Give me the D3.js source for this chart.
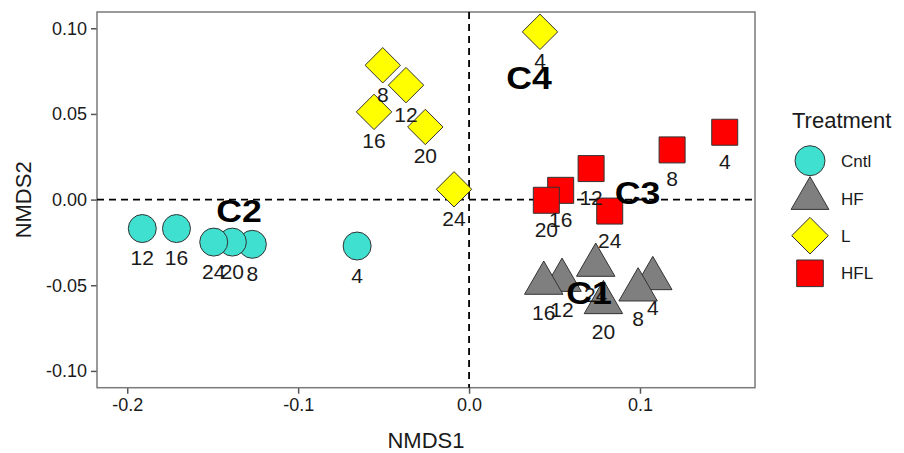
<!DOCTYPE html>
<html>
<head>
<meta charset="utf-8">
<script src="https://cdn.jsdelivr.net/npm/d3@7"></script>
<style>
  body { margin: 0; background: white; }
  svg { font-family: "Liberation Sans", Arial, sans-serif; }
</style>
</head>
<body>
<div id="chart"></div>
<script>
let w = 904;
let h = 453;

// sampling days (point labels), same order in every treatment
let days = [4, 8, 12, 16, 20, 24];

let treatments = ["Cntl", "HF", "L", "HFL"];
let colors = ["#40E0D0", "#7F7F7F", "#FFFF00", "#FF0000"];

// NMDS coordinates per treatment
let cntlX = [-0.0655, -0.1268, -0.1912, -0.1712, -0.1385, -0.1494];
let cntlY = [-0.0271, -0.0261, -0.0169, -0.0169, -0.0248, -0.0248];
let hfX = [0.1075, 0.0989, 0.0544, 0.0437, 0.0786, 0.0741];
let hfY = [-0.0461, -0.0527, -0.0471, -0.0488, -0.0601, -0.0383];
let lX = [0.0415, -0.0505, -0.0369, -0.0556, -0.0256, -0.0088];
let lY = [0.0979, 0.0784, 0.0668, 0.0512, 0.0424, 0.0060];
let hflX = [0.1496, 0.1188, 0.0714, 0.0536, 0.0452, 0.0823];
let hflY = [0.0393, 0.0290, 0.0181, 0.0054, -0.0004, -0.0067];

// cluster annotations
let clusterNames = ["C1", "C2", "C3", "C4"];
let clusterX = [0.0702, -0.1346, 0.0986, 0.0351];
let clusterY = [-0.0547, -0.0065, 0.0040, 0.0707];

let xTicks = [-0.2, -0.1, 0.0, 0.1];
let yTicks = [-0.10, -0.05, 0.00, 0.05, 0.10];

let seriesX = [cntlX, hfX, lX, hflX];
let seriesY = [cntlY, hfY, lY, hflY];

let points = [];
treatments.forEach((t, ti) => {
  days.forEach((d, i) => {
    points.push({ treatment: t, ti: ti, day: d, x: seriesX[ti][i], y: seriesY[ti][i] });
  });
});

let viz = d3.select("#chart")
  .append("svg")
  .attr("width", w)
  .attr("height", h);

let pLeft = 97, pRight = 755, pTop = 12, pBottom = 387.7;

let xScale = d3.scaleLinear().domain([-0.2177, 0.1673]).range([pLeft, pRight]);
let yScale = d3.scaleLinear().domain([-0.1098, 0.1095]).range([pBottom, pTop]);

// shape paths, one per treatment
function shapePath(ti, s) {
  if (ti == 0) {
    let r = 14 * s;
    return d3.symbol(d3.symbolCircle, Math.PI * r * r)();
  } else if (ti == 1) {
    let R = 22.2 * s;
    let yy = R / 2, xx = R * Math.sqrt(3) / 2;
    return "M0," + (-R) + "L" + xx + "," + yy + "L" + (-xx) + "," + yy + "Z";
  } else if (ti == 2) {
    let a = 17.7 * s;
    return "M0," + (-a) + "L" + a + ",0L0," + a + "L" + (-a) + ",0Z";
  } else {
    let a = 13 * s;
    return "M" + (-a) + "," + (-a) + "H" + a + "V" + a + "H" + (-a) + "Z";
  }
}

let axisColor = "#7a7a7a";

// y axis
let yAxis = viz.append("g")
  .attr("transform", "translate(" + pLeft + ",0)")
  .call(d3.axisLeft(yScale).tickValues(yTicks).tickFormat(d3.format(".2f")).tickSize(6).tickPadding(4));
// x axis
let xAxis = viz.append("g")
  .attr("transform", "translate(0," + pBottom + ")")
  .call(d3.axisBottom(xScale).tickValues(xTicks).tickFormat(d3.format(".1f")).tickSize(6).tickPadding(5));

[xAxis, yAxis].forEach(ax => {
  ax.select(".domain").remove();
  ax.selectAll("line").attr("stroke", "#555").attr("stroke-width", 1.5);
  ax.selectAll("text")
    .attr("fill", "#1a1a1a")
    .style("font-size", "18px")
    .style("font-family", "Liberation Sans, Arial, sans-serif")
    .text(function () { return this.textContent.replace("\u2212", "-"); });
});

// panel border
viz.append("rect")
  .attr("x", pLeft)
  .attr("y", pTop)
  .attr("width", pRight - pLeft)
  .attr("height", pBottom - pTop)
  .attr("fill", "none")
  .attr("stroke", axisColor)
  .attr("stroke-width", 1.5);

// zero lines
viz.append("line")
  .attr("x1", pLeft).attr("x2", pRight)
  .attr("y1", yScale(0)).attr("y2", yScale(0))
  .attr("stroke", "black").attr("stroke-width", 1.8).attr("stroke-dasharray", "7,5");
viz.append("line")
  .attr("x1", xScale(0)).attr("x2", xScale(0))
  .attr("y1", pTop).attr("y2", pBottom)
  .attr("stroke", "black").attr("stroke-width", 1.8).attr("stroke-dasharray", "7,5");

// points
viz.append("g").selectAll("path")
  .data(points)
  .enter()
  .append("path")
  .attr("transform", d => "translate(" + xScale(d.x) + "," + yScale(d.y) + ")")
  .attr("d", d => shapePath(d.ti, 1))
  .attr("fill", d => colors[d.ti])
  .attr("stroke", "#333")
  .attr("stroke-width", 1);

// day labels
viz.append("g").selectAll("text")
  .data(points)
  .enter()
  .append("text")
  .attr("x", d => xScale(d.x))
  .attr("y", d => yScale(d.y) + 36.5)
  .attr("text-anchor", "middle")
  .attr("fill", "#1a1a1a")
  .style("font-size", "21px")
  .text(d => d.day);

// cluster labels
clusterNames.forEach((c, i) => {
  viz.append("text")
    .attr("transform", "translate(" + xScale(clusterX[i]) + "," + (yScale(clusterY[i]) + 11) + ") scale(1.15,1)")
    .attr("text-anchor", "middle")
    .attr("font-weight", "bold")
    .attr("fill", "black")
    .style("font-size", "31px")
    .text(c);
});

// axis titles
viz.append("text")
  .attr("x", (pLeft + pRight) / 2)
  .attr("y", 448)
  .attr("text-anchor", "middle")
  .attr("fill", "#1a1a1a")
  .style("font-size", "22px")
  .text("NMDS1");
viz.append("text")
  .attr("transform", "translate(31," + ((pTop + pBottom) / 2) + ") rotate(-90)")
  .attr("text-anchor", "middle")
  .attr("fill", "#1a1a1a")
  .style("font-size", "22px")
  .text("NMDS2");

// legend
let legend = viz.append("g");
legend.append("text")
  .attr("x", 792)
  .attr("y", 128.3)
  .attr("fill", "#1a1a1a")
  .style("font-size", "22px")
  .text("Treatment");

let legendY = [160.7, 198.5, 235.7, 273.3];
let legendScale = [15 / 14, 21.8 / 22.2, 18.3 / 17.7, 13.3 / 13];
let items = legend.selectAll(".item")
  .data(treatments)
  .enter()
  .append("g")
  .attr("class", "item")
  .attr("transform", (d, i) => "translate(810," + legendY[i] + ")");
items.append("path")
  .attr("d", (d, i) => shapePath(i, legendScale[i]))
  .attr("fill", (d, i) => colors[i])
  .attr("stroke", "#333")
  .attr("stroke-width", 1);
items.append("text")
  .attr("x", 31)
  .attr("y", 6)
  .attr("fill", "#1a1a1a")
  .style("font-size", "17px")
  .text(d => d);
</script>
</body>
</html>
